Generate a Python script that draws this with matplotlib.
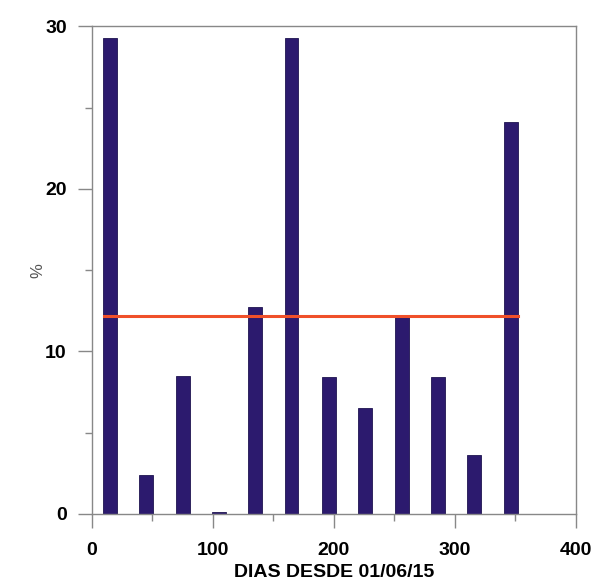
import matplotlib
matplotlib.use("Agg")
import matplotlib.pyplot as plt
from matplotlib.ticker import MultipleLocator

days = [15, 45, 75, 105, 135, 165, 196, 226, 256, 286, 316, 346]
values = [29.3, 2.4, 8.5, 0.1, 12.7, 29.3, 8.4, 6.5, 12.2, 8.4, 3.6, 24.1]
mean_x = [10, 352]
mean_y = [12.15, 12.15]
xticks = [0, 100, 200, 300, 400]
yticks = [0, 10, 20, 30]

plt.rcParams['font.family'] = ['Liberation Sans', 'DejaVu Sans']
fig = plt.figure(figsize=(6, 5.84), dpi=100)
ax = fig.add_axes([0.153, 0.12, 0.807, 0.835])

ax.bar(days, values, width=11.5, color='#2c1a6e', edgecolor='#1e1450', linewidth=0.6, zorder=2)
ax.plot(mean_x, mean_y, color='#f0502a', linewidth=2.2, zorder=3)

ax.set_xlim(0, 400)
ax.set_ylim(0, 30)
ax.set_xticks(xticks)
ax.set_yticks(yticks)
ax.xaxis.set_minor_locator(MultipleLocator(50))
ax.yaxis.set_minor_locator(MultipleLocator(5))
ax.tick_params(which='major', direction='out', length=10, width=1, color='#888888',
               labelsize=14)
ax.tick_params(axis='x', which='major', pad=10)
ax.tick_params(axis='y', which='major', pad=8)
ax.tick_params(which='minor', direction='out', length=5, width=1, color='#888888')
for lab in ax.get_xticklabels() + ax.get_yticklabels():
    lab.set_fontweight('bold')
for s in ax.spines.values():
    s.set_color('#888888')
    s.set_linewidth(1)

ax.set_xlabel('DIAS DESDE 01/06/15', fontsize=14, fontweight='bold', labelpad=4)
ax.set_ylabel('%', fontsize=12, color='#555555', labelpad=0)

fig.savefig('out.png', dpi=100)
